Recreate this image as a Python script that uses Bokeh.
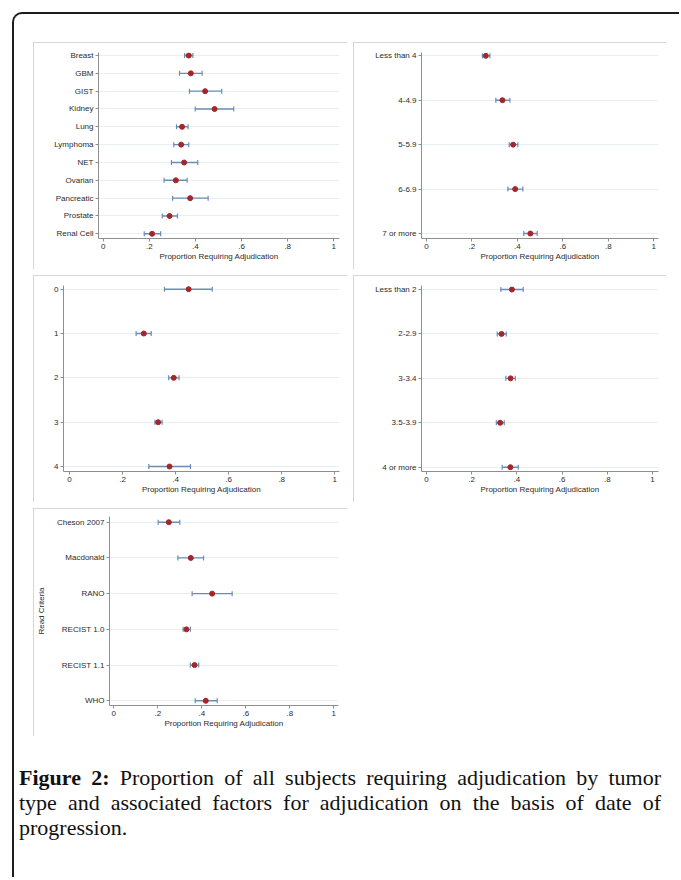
from bokeh.plotting import figure
from bokeh.layouts import column, row
from bokeh.models import (ColumnDataSource, Range1d, FixedTicker, Whisker, TeeHead, Div)
from bokeh.embed import file_html
from bokeh.resources import INLINE

# ---------------- data ----------------
x_ticks = [0, 0.2, 0.4, 0.6, 0.8, 1.0]
x_tick_labels = ["0", ".2", ".4", ".6", ".8", "1"]
x_title = "Proportion Requiring Adjudication"

tumor_types = ["Breast", "GBM", "GIST", "Kidney", "Lung", "Lymphoma", "NET",
               "Ovarian", "Pancreatic", "Prostate", "Renal Cell"]
tumor_est = [0.371, 0.380, 0.442, 0.483, 0.342, 0.338, 0.351, 0.315, 0.377, 0.288, 0.212]
tumor_lo = [0.353, 0.331, 0.374, 0.399, 0.318, 0.306, 0.296, 0.264, 0.301, 0.256, 0.178]
tumor_hi = [0.389, 0.429, 0.514, 0.566, 0.368, 0.371, 0.410, 0.364, 0.455, 0.322, 0.249]

grp2_cats = ["Less than 4", "4-4.9", "5-5.9", "6-6.9", "7 or more"]
grp2_est = [0.261, 0.334, 0.381, 0.390, 0.457]
grp2_lo = [0.246, 0.305, 0.364, 0.358, 0.428]
grp2_hi = [0.279, 0.367, 0.402, 0.424, 0.487]

grp3_cats = ["0", "1", "2", "3", "4"]
grp3_est = [0.449, 0.280, 0.393, 0.334, 0.377]
grp3_lo = [0.358, 0.251, 0.374, 0.322, 0.299]
grp3_hi = [0.538, 0.308, 0.413, 0.349, 0.456]

grp4_cats = ["Less than 2", "2-2.9", "3-3.4", "3.5-3.9", "4 or more"]
grp4_est = [0.378, 0.332, 0.372, 0.326, 0.371]
grp4_lo = [0.329, 0.313, 0.351, 0.309, 0.335]
grp4_hi = [0.428, 0.353, 0.393, 0.344, 0.406]

criteria_cats = ["Cheson 2007", "Macdonald", "RANO", "RECIST 1.0", "RECIST 1.1", "WHO"]
criteria_est = [0.250, 0.350, 0.447, 0.330, 0.367, 0.418]
criteria_lo = [0.202, 0.291, 0.356, 0.315, 0.348, 0.370]
criteria_hi = [0.300, 0.408, 0.538, 0.348, 0.386, 0.470]
criteria_title = "Read Criteria"

caption_bold = "Figure 2:"
caption_lines = [" Proportion of all subjects requiring adjudication by tumor",
                 "type and associated factors for adjudication on the basis of date of",
                 "progression."]

# ---------------- style ----------------
CI_COLOR = "#6a8db3"
PT_COLOR = "#a3262b"
AXIS_COLOR = "#8e8e8e"
GRID_COLOR = "#e6eff1"
LABEL_COLOR = "#2b2b2b"
FONT = "Liberation Sans"


def make_panel(cats, est, lo, hi, w, h, bl, br, bt, bb, x0, x1, r0, rn, ylabel=None):
    n = len(cats)
    step = (rn - r0) / (n - 1)
    sx = x1 - x0
    xr = Range1d((bl - x0) / sx, (w - br - x0) / sx)
    yr = Range1d((h - bb - r0) / step, (bt - r0) / step)
    p = figure(width=w, height=h, x_range=xr, y_range=yr,
               output_backend="svg", toolbar_location=None,
               min_border_left=bl, min_border_right=br,
               min_border_top=bt, min_border_bottom=bb,
               background_fill_color="white", border_fill_color="white",
               outline_line_color=None,
               styles={"outline": "2px solid #c9c9c9", "outline-offset": "-2px"})
    ys = list(range(n))
    src = ColumnDataSource(dict(y=ys, est=est, lo=lo, hi=hi))
    p.add_layout(Whisker(source=src, base="y", lower="lo", upper="hi",
                         dimension="width", line_color=CI_COLOR, line_width=1.4,
                         lower_head=TeeHead(size=5, line_color=CI_COLOR, line_width=1.2),
                         upper_head=TeeHead(size=5, line_color=CI_COLOR, line_width=1.2)))
    p.scatter("est", "y", source=src, size=5, fill_color=PT_COLOR, line_color=PT_COLOR)

    p.yaxis.ticker = FixedTicker(ticks=ys)
    p.yaxis.major_label_overrides = {i: c for i, c in enumerate(cats)}
    p.xaxis.ticker = FixedTicker(ticks=x_ticks)
    p.xaxis.major_label_overrides = {t: l for t, l in zip(x_ticks, x_tick_labels)}
    p.xaxis.axis_label = x_title
    if ylabel:
        p.yaxis.axis_label = ylabel
        p.yaxis.axis_label_standoff = 8
    for ax in (p.xaxis, p.yaxis):
        ax.axis_line_color = AXIS_COLOR
        ax.major_tick_line_color = AXIS_COLOR
        ax.major_tick_out = 3
        ax.major_tick_in = 0
        ax.minor_tick_line_color = None
        ax.major_label_text_font = FONT
        ax.major_label_text_font_size = "8px"
        ax.major_label_text_color = LABEL_COLOR
        ax.major_label_standoff = 2
        ax.axis_label_text_font = FONT
        ax.axis_label_text_font_size = "8px"
        ax.axis_label_text_font_style = "normal"
        ax.axis_label_text_color = LABEL_COLOR
    p.xaxis.axis_label_standoff = 0
    p.xgrid.visible = False
    p.ygrid.grid_line_color = GRID_COLOR
    p.ygrid.grid_line_width = 1
    return p


p1 = make_panel(tumor_types, tumor_est, tumor_lo, tumor_hi,
                314, 227, 65, 8, 10, 31, 69.7, 300.3, 13, 191.3)
p2 = make_panel(grp2_cats, grp2_est, grp2_lo, grp2_hi,
                313, 227, 68, 8, 9, 31, 73, 300.3, 12.3, 191)
p3 = make_panel(grp3_cats, grp3_est, grp3_lo, grp3_hi,
                314, 227, 30, 8, 9, 31, 36, 301.3, 12.7, 191)
p4 = make_panel(grp4_cats, grp4_est, grp4_lo, grp4_hi,
                313, 227, 68, 8, 10, 31, 73, 299, 14, 191.7)
p5 = make_panel(criteria_cats, criteria_est, criteria_lo, criteria_hi,
                314, 228, 76, 9, 8, 31, 80.3, 300.3, 13.7, 192.3,
                ylabel=criteria_title)

row1 = row(p1, p2, spacing=6, margin=(28, 0, 0, 19))
row2 = row(p3, p4, spacing=6, margin=(0, 0, 0, 19))
row3 = row(p5, margin=(0, 0, 0, 19))

just = "text-align:justify;text-align-last:justify;"
cap_html = (
    "<div style=\"font-family:'Liberation Serif',serif;font-size:22px;"
    "line-height:25px;color:#111;width:642px;\">"
    f"<div style='{just}'><b>{caption_bold}</b>{caption_lines[0]}</div>"
    f"<div style='{just}'>{caption_lines[1]}</div>"
    f"<div>{caption_lines[2]}</div>"
    "</div>"
)
caption = Div(text=cap_html, width=642, height=112, margin=(23, 0, 0, 5))

root = column(row1, row2, row3, caption, spacing=6, width=667,
              margin=(12, 0, 0, 12),
              styles={"border-top": "2px solid #1c1c1c",
                      "border-left": "2px solid #1c1c1c",
                      "border-top-left-radius": "10px"})

open("out.html", "w").write(file_html(root, INLINE))
